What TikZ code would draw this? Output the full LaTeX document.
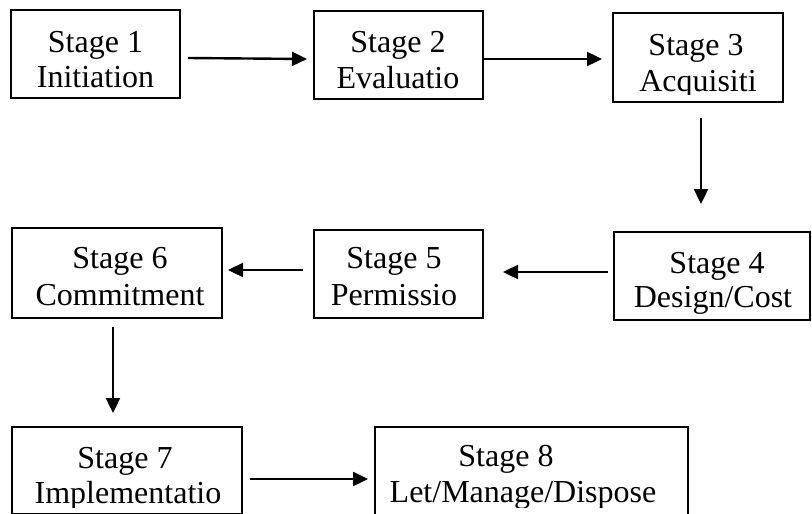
\documentclass[tikz,border=0pt]{standalone}
\usepackage{fontspec}
\setmainfont{Liberation Serif}
\usetikzlibrary{arrows.meta}
\begin{document}
\begin{tikzpicture}[x=1pt,y=-1pt,
  box/.style={draw=black, line width=1.6pt, inner sep=0pt, outer sep=0pt},
  lbl/.style={anchor=base, inner sep=0pt, font=\fontsize{32}{36}\selectfont},
  flow/.style={line width=2.4pt, -{Triangle[length=15pt,width=14pt]}}]
\useasboundingbox (0,0) rectangle (812,514);

% boxes
\node[box, minimum width=169pt, minimum height=88pt] (s1) at (95.5,54) {};
\node[box, minimum width=169pt, minimum height=88pt] (s2) at (398.5,55) {};
\node[box, minimum width=170pt, minimum height=89pt] (s3) at (698,57.5) {};
\node[box, minimum width=196pt, minimum height=88pt] (s4) at (712,276) {};
\node[box, minimum width=169pt, minimum height=88pt] (s5) at (398.5,274) {};
\node[box, minimum width=210pt, minimum height=90pt] (s6) at (117,273) {};
\node[box, minimum width=230pt, minimum height=87pt] (s7) at (127,470.5) {};
\node[box, minimum width=313pt, minimum height=88pt] (s8) at (531.5,471) {};

% labels (clipped inside their boxes)
\begin{scope}
  \clip (s1.north west) rectangle ([shift={(0,-6)}]s1.south east);
  \node[lbl] (t1a) at (95.5,52) {Stage 1};
  \node[lbl] (t1b) at (95.5,87) {Initiation};
\end{scope}
\begin{scope}
  \clip (s2.north west) rectangle ([shift={(0,-6)}]s2.south east);
  \node[lbl] (t2a) at (398,52) {Stage 2};
  \node[lbl] (t2b) at (398,88) {Evaluatio};
\end{scope}
\begin{scope}
  \clip (s3.north west) rectangle ([shift={(0,-8)}]s3.south east);
  \node[lbl] (t3a) at (696,55) {Stage 3};
  \node[lbl] (t3b) at (698,91) {Acquisiti};
\end{scope}
\begin{scope}
  \clip (s4.north west) rectangle ([shift={(0,-7)}]s4.south east);
  \node[lbl] (t4a) at (717,273) {Stage 4};
  \node[lbl] (t4b) at (713,307) {Design/Cost};
\end{scope}
\begin{scope}
  \clip (s5.north west) rectangle ([shift={(0,-6)}]s5.south east);
  \node[lbl] (t5a) at (394,268) {Stage 5};
  \node[lbl] (t5b) at (394,305) {Permissio};
\end{scope}
\begin{scope}
  \clip (s6.north west) rectangle ([shift={(0,-6)}]s6.south east);
  \node[lbl] (t6a) at (120,268) {Stage 6};
  \node[lbl] (t6b) at (120,305) {Commitment};
\end{scope}
\begin{scope}
  \clip (s7.north west) rectangle (s7.east |- 0,507);
  \node[lbl] (t7a) at (125,468) {Stage 7};
  \node[lbl] (t7b) at (128,503) {Implementatio};
\end{scope}
\begin{scope}
  \clip (s8.north west) rectangle (s8.east |- 0,507);
  \node[lbl] (t8a) at (506,466) {Stage 8};
  \node[lbl] (t8b) at (523,502) {Let/Manage/Dispose};
\end{scope}

% connectors
\draw[flow] ([shift={(8,4)}]s1.east) -- ([shift={(-7,4)}]s2.west);
\draw[flow] ([shift={(1,4)}]s2.east) -- ([shift={(-11,1.5)}]s3.west);
\draw[flow] ([shift={(3,16)}]s3.south) -- ([shift={(-11,-28)}]s4.north);
\draw[flow] ([shift={(-6,-4)}]s4.west) -- ([shift={(20,-2)}]s5.east);
\draw[flow] ([shift={(-11,-4)}]s5.west) -- ([shift={(6,-3)}]s6.east);
\draw[flow] ([shift={(-4,9)}]s6.south) -- ([shift={(-14,-14)}]s7.north);
\draw[flow] ([shift={(8,8.5)}]s7.east) -- ([shift={(-7,8)}]s8.west);
\end{tikzpicture}
\end{document}
